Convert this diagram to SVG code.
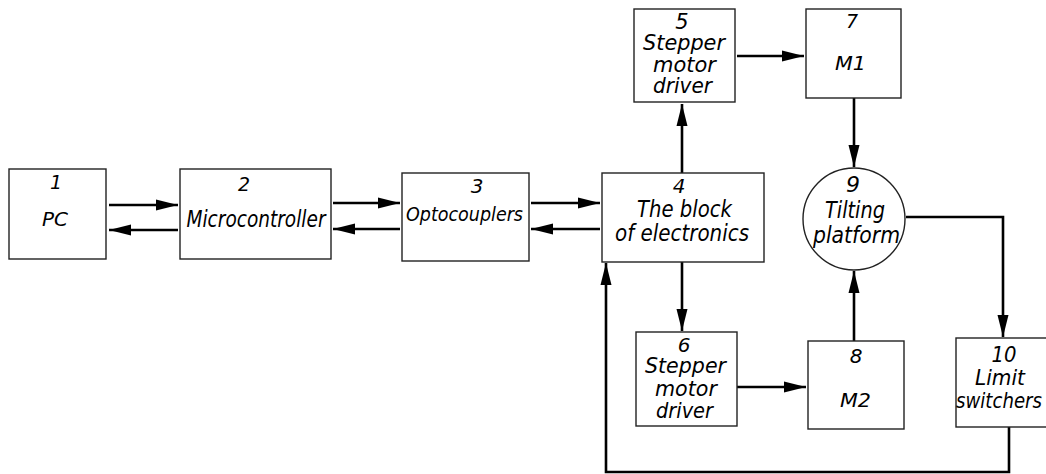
<svg xmlns="http://www.w3.org/2000/svg" width="1046" height="474" viewBox="0 0 1046 474">
<style>
.box{fill:#fff;stroke:#222;stroke-width:1.4}
.ln{fill:none;stroke:#000;stroke-width:2.6}
text{font-family:"DejaVu Sans","Liberation Sans",sans-serif;font-style:italic;font-size:22px;fill:#000;text-anchor:middle}
.s19{font-size:19px}
.s20{font-size:20px}
.s21{font-size:21px}
.s23{font-size:23px}
</style>
<defs>
<marker id="ah" markerUnits="userSpaceOnUse" markerWidth="23" markerHeight="12" refX="22" refY="6" orient="auto">
<path d="M0,0.5 L22,6 L0,11.5 z" fill="#000"/>
</marker>
</defs>
<rect width="1046" height="474" fill="#fff"/>
<g id="connectors">
<line class="ln" x1="109" y1="205" x2="178" y2="205" marker-end="url(#ah)"/>
<line class="ln" x1="178" y1="230" x2="109" y2="230" marker-end="url(#ah)"/>
<line class="ln" x1="333" y1="203" x2="400" y2="203" marker-end="url(#ah)"/>
<line class="ln" x1="400" y1="229" x2="333" y2="229" marker-end="url(#ah)"/>
<line class="ln" x1="531" y1="203" x2="600" y2="203" marker-end="url(#ah)"/>
<line class="ln" x1="600" y1="229" x2="531" y2="229" marker-end="url(#ah)"/>
<line class="ln" x1="682" y1="173" x2="682" y2="104" marker-end="url(#ah)"/>
<line class="ln" x1="737" y1="56" x2="804" y2="56" marker-end="url(#ah)"/>
<line class="ln" x1="854" y1="98" x2="854" y2="167" marker-end="url(#ah)"/>
<line class="ln" x1="682" y1="262" x2="682" y2="331" marker-end="url(#ah)"/>
<line class="ln" x1="737" y1="387" x2="806" y2="387" marker-end="url(#ah)"/>
<line class="ln" x1="854" y1="341" x2="854" y2="271" marker-end="url(#ah)"/>
<polyline class="ln" points="906,217 1003,217 1003,337" marker-end="url(#ah)"/>
<polyline class="ln" points="1009,427 1009,472 606,472 606,263" marker-end="url(#ah)"/>
</g>
<g id="n1">
<rect class="box" x="9" y="169" width="97" height="90"/>
<text class="s19" x="56" y="189">1</text>
<text class="s19" x="55" y="226" textLength="26" lengthAdjust="spacingAndGlyphs">PC</text>
</g>
<g id="n2">
<rect class="box" x="180" y="169" width="151" height="90"/>
<text class="s19" x="244" y="191">2</text>
<text class="s23" x="256" y="227" textLength="139" lengthAdjust="spacingAndGlyphs">Microcontroller</text>
</g>
<g id="n3">
<rect class="box" x="402" y="173" width="127" height="88"/>
<text class="s20" x="477" y="193">3</text>
<text class="s19" x="464.5" y="221" textLength="117" lengthAdjust="spacingAndGlyphs">Optocouplers</text>
</g>
<g id="n4">
<rect class="box" x="602" y="173" width="162" height="89"/>
<text class="s20" x="679" y="193">4</text>
<text class="s23" x="684.5" y="217" textLength="95" lengthAdjust="spacingAndGlyphs">The block</text>
<text class="s23" x="682" y="241" textLength="134" lengthAdjust="spacingAndGlyphs">of electronics</text>
</g>
<g id="n5">
<rect class="box" x="634" y="9" width="101" height="93"/>
<text class="s21" x="682" y="29">5</text>
<text class="s21" x="684" y="50" textLength="82" lengthAdjust="spacingAndGlyphs">Stepper</text>
<text class="s21" x="684.5" y="72" textLength="63" lengthAdjust="spacingAndGlyphs">motor</text>
<text class="s21" x="682.5" y="93" textLength="59" lengthAdjust="spacingAndGlyphs">driver</text>
</g>
<g id="n6">
<rect class="box" x="636" y="332" width="101" height="94"/>
<text class="s20" x="684" y="352">6</text>
<text class="s21" x="685.5" y="373" textLength="81" lengthAdjust="spacingAndGlyphs">Stepper</text>
<text class="s21" x="686" y="396" textLength="62" lengthAdjust="spacingAndGlyphs">motor</text>
<text class="s21" x="684.5" y="418" textLength="57" lengthAdjust="spacingAndGlyphs">driver</text>
</g>
<g id="n7">
<rect class="box" x="806" y="9" width="95" height="89"/>
<text class="s19" x="852" y="28">7</text>
<text class="s19" x="850.5" y="70" textLength="31" lengthAdjust="spacingAndGlyphs">M1</text>
</g>
<g id="n8">
<rect class="box" x="808" y="341" width="96" height="88"/>
<text class="s20" x="856" y="363">8</text>
<text class="s19" x="855.5" y="407" textLength="31" lengthAdjust="spacingAndGlyphs">M2</text>
</g>
<g id="n9">
<circle class="box" cx="854" cy="219" r="51"/>
<text x="853" y="192">9</text>
<text class="s23" x="855" y="218" textLength="60" lengthAdjust="spacingAndGlyphs">Tilting</text>
<text class="s23" x="856.5" y="243" textLength="87" lengthAdjust="spacingAndGlyphs">platform</text>
</g>
<g id="n10">
<rect class="box" x="956" y="338" width="92" height="89"/>
<text x="1004" y="362" textLength="25" lengthAdjust="spacingAndGlyphs">10</text>
<text x="1000" y="385" textLength="50" lengthAdjust="spacingAndGlyphs">Limit</text>
<text x="999" y="408" textLength="86" lengthAdjust="spacingAndGlyphs">switchers</text>
</g>
</svg>
